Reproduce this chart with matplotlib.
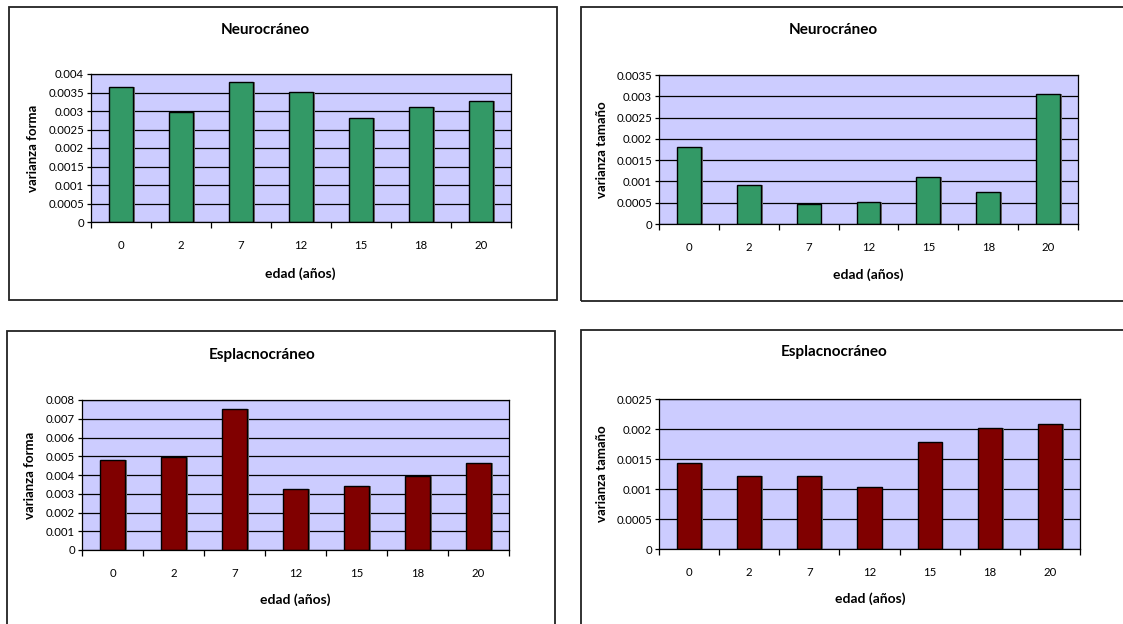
import matplotlib

matplotlib.use("Agg")
import matplotlib.pyplot as plt
from matplotlib.patches import Rectangle

plt.rcParams["font.family"] = ["Lato", "DejaVu Sans"]

W, H = 1123, 624

edades = ["0", "2", "7", "12", "15", "18", "20"]

neuro_forma = [0.00366, 0.00296, 0.00378, 0.00351, 0.00281, 0.00312, 0.00327]
neuro_tamano = [0.00182, 0.00092, 0.00048, 0.00052, 0.00110, 0.00076, 0.00305]
esplac_forma = [0.00478, 0.00498, 0.00750, 0.00324, 0.00343, 0.00396, 0.00462]
esplac_tamano = [0.00144, 0.00121, 0.00122, 0.00103, 0.00178, 0.00201, 0.00209]

GREEN = "#339966"
DARKRED = "#800000"
PLOT_BG = "#CCCCFF"


def px_axes(fig, x0, y0, x1, y1):
    return fig.add_axes([x0 / W, 1 - y1 / H, (x1 - x0) / W, (y1 - y0) / H])


def fig_text(fig, x, y, s, **kw):
    fig.text(x / W, 1 - y / H, s, **kw)


def draw_panel(fig, box, plot, values, color, ymax, ystep, title, ylabel, title_pos, ylabel_x, xlabel_pos):
    bx0, by0, bx1, by1 = box
    fig.patches.append(
        Rectangle((bx0 / W, 1 - by1 / H), (bx1 - bx0) / W, (by1 - by0) / H,
                  transform=fig.transFigure, fill=False, edgecolor="#222222", lw=1.3)
    )
    ax = px_axes(fig, *plot)
    ax.set_facecolor(PLOT_BG)
    x = range(len(edades))
    # slight grey shadow like the spreadsheet original
    ax.bar([i + 0.03 for i in x], values, width=0.4, color="#777777", zorder=2)
    ax.bar(x, values, width=0.4, color=color, edgecolor="black", linewidth=1.0, zorder=3)
    ax.set_xlim(-0.5, len(edades) - 0.5)
    ax.set_ylim(0, ymax)
    n = int(round(ymax / ystep))
    ticks = [round(i * ystep, 6) for i in range(n + 1)]
    ax.set_yticks(ticks)
    ax.set_yticklabels([f"{t:g}" for t in ticks], fontsize=8.2)
    ax.set_xticks(list(x))
    ax.set_xticklabels(edades, fontsize=8.2)
    ax.set_xticks([i - 0.5 for i in range(len(edades) + 1)], minor=True)
    ax.tick_params(axis="x", which="major", length=0, pad=13)
    ax.tick_params(axis="x", which="minor", length=4.5, width=0.9)
    ax.tick_params(axis="y", length=3, width=0.9, pad=2)
    ax.yaxis.grid(True, color="black", lw=0.9)
    ax.set_axisbelow(True)
    for sp in ax.spines.values():
        sp.set_color("black")
        sp.set_linewidth(0.9)
    ax.spines["left"].set_zorder(4)
    ax.spines["bottom"].set_zorder(4)
    fig_text(fig, title_pos[0], title_pos[1], title, fontsize=11, fontweight="bold",
             ha="center", va="center")
    fig_text(fig, ylabel_x, (plot[1] + plot[3]) / 2, ylabel, fontsize=9.5, fontweight="bold",
             rotation=90, ha="center", va="center")
    fig_text(fig, xlabel_pos[0], xlabel_pos[1], "edad (años)", fontsize=10, fontweight="bold",
             ha="center", va="center")


fig = plt.figure(figsize=(W / 100, H / 100), dpi=100)

draw_panel(fig, (9, 7, 557, 300), (91, 74, 511, 222), neuro_forma, GREEN, 0.004, 0.0005,
           "Neurocráneo", "varianza forma", (265, 30), 33, (300, 274))
draw_panel(fig, (581, 7, 1126, 301), (659, 75, 1078, 224), neuro_tamano, GREEN, 0.0035, 0.0005,
           "Neurocráneo", "varianza tamaño", (833, 30), 602, (868, 275))
draw_panel(fig, (7, 331, 555, 630), (82, 400, 509, 550), esplac_forma, DARKRED, 0.008, 0.001,
           "Esplacnocráneo", "varianza forma", (262, 355), 30, (295, 600))
draw_panel(fig, (581, 330, 1126, 630), (659, 399, 1080, 549), esplac_tamano, DARKRED, 0.0025, 0.0005,
           "Esplacnocráneo", "varianza tamaño", (834, 352), 602, (870, 599))

fig.savefig("out.png", dpi=100)
